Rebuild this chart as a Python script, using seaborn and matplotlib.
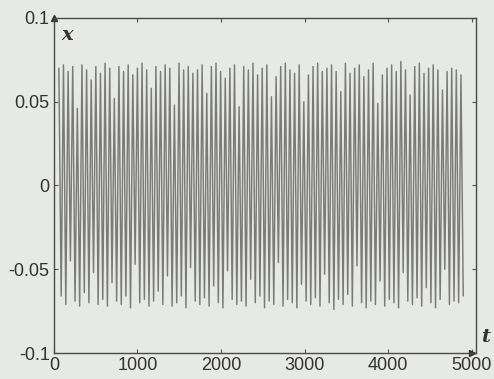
import numpy as np
import pandas as pd
import matplotlib
matplotlib.use("Agg")
import matplotlib.pyplot as plt
import seaborn as sns

# Peak (local maximum) values of x, read left to right
peaks = [0.070, 0.072, 0.068, 0.071, 0.046, 0.072, 0.069, 0.063, 0.071, 0.067,
         0.073, 0.070, 0.052, 0.071, 0.068, 0.072, 0.066, 0.070, 0.073, 0.069,
         0.058, 0.071, 0.068, 0.072, 0.070, 0.048, 0.073, 0.069, 0.071, 0.067,
         0.069, 0.072, 0.055, 0.071, 0.073, 0.068, 0.064, 0.070, 0.072, 0.047,
         0.071, 0.069, 0.073, 0.066, 0.070, 0.072, 0.053, 0.065, 0.071, 0.073,
         0.069, 0.067, 0.072, 0.050, 0.066, 0.071, 0.073, 0.068, 0.070, 0.072,
         0.068, 0.056, 0.073, 0.067, 0.070, 0.072, 0.065, 0.069, 0.073, 0.049,
         0.066, 0.070, 0.072, 0.068, 0.074, 0.069, 0.054, 0.071, 0.073, 0.067,
         0.070, 0.072, 0.069, 0.057, 0.068, 0.070, 0.069, 0.066]
# Trough (local minimum) values of x, read left to right
troughs = [-0.066, -0.071, -0.045, -0.069, -0.072, -0.064, -0.070, -0.052, -0.071, -0.068,
           -0.072, -0.058, -0.069, -0.071, -0.066, -0.073, -0.047, -0.070, -0.068, -0.072,
           -0.069, -0.063, -0.071, -0.054, -0.072, -0.070, -0.066, -0.073, -0.049, -0.069,
           -0.071, -0.067, -0.072, -0.060, -0.070, -0.073, -0.051, -0.068, -0.071, -0.069,
           -0.072, -0.056, -0.070, -0.066, -0.073, -0.069, -0.071, -0.046, -0.072, -0.068,
           -0.070, -0.073, -0.059, -0.069, -0.071, -0.067, -0.072, -0.053, -0.070, -0.074,
           -0.068, -0.071, -0.065, -0.072, -0.048, -0.070, -0.073, -0.069, -0.071, -0.057,
           -0.072, -0.068, -0.070, -0.073, -0.052, -0.069, -0.071, -0.067, -0.072, -0.061,
           -0.070, -0.073, -0.068, -0.050, -0.071, -0.069, -0.070, -0.066]

t_start, t_end = 60, 4900
x_ticks = [0, 1000, 2000, 3000, 4000, 5000]
y_ticks = [-0.1, -0.05, 0, 0.05, 0.1]
y_tick_labels = ["-0.1", "-0.05", "0", "0.05", "0.1"]

values = np.empty(len(peaks) + len(troughs))
values[0::2] = peaks
values[1::2] = troughs
t = np.linspace(t_start, t_end, len(values))
df = pd.DataFrame({"t": t, "x": values})

sns.set_theme(style="white")
plt.rcParams["font.family"] = ["Liberation Sans", "DejaVu Sans"]

bg = "#e7e9e5"
fig = plt.figure(figsize=(4.94, 3.79), dpi=100, facecolor=bg)
ax = fig.add_axes([0.109, 0.0686, 0.855, 0.884])
ax.set_facecolor(bg)

sns.lineplot(data=df, x="t", y="x", ax=ax, color="#7a7a7a", lw=1.05,
             estimator=None, sort=False)

ax.set_xlim(0, 5055)
ax.set_ylim(-0.1, 0.1)
ax.set_xticks(x_ticks)
ax.set_xticklabels([str(v) for v in x_ticks])
ax.set_yticks(y_ticks)
ax.set_yticklabels(y_tick_labels)
ax.set_xlabel("")
ax.set_ylabel("")
ax.tick_params(axis="both", which="both", direction="in", length=3, width=0.8,
               colors="#555555", labelcolor="#333333", labelsize=13, pad=3,
               top=True, right=True, bottom=True, left=True)
for s in ax.spines.values():
    s.set_color("#4a4a4a")
    s.set_linewidth(1.0)

# axis arrows
ax.plot([0], [1.0], marker="^", color="#333333", markersize=5,
        transform=ax.transAxes, clip_on=False)
ax.plot([5000 / 5055], [0.0], marker=">", color="#333333", markersize=5,
        transform=ax.transAxes, clip_on=False)

ax.text(0.018, 0.975, "x", transform=ax.transAxes, fontsize=14,
        family="DejaVu Serif", style="italic", fontweight="bold",
        color="#333333", ha="left", va="top")
ax.text(1.012, 0.02, "t", transform=ax.transAxes, fontsize=14,
        family="DejaVu Serif", style="italic", fontweight="bold",
        color="#333333", ha="left", va="bottom")

fig.savefig("out.png", dpi=100, facecolor=bg)
